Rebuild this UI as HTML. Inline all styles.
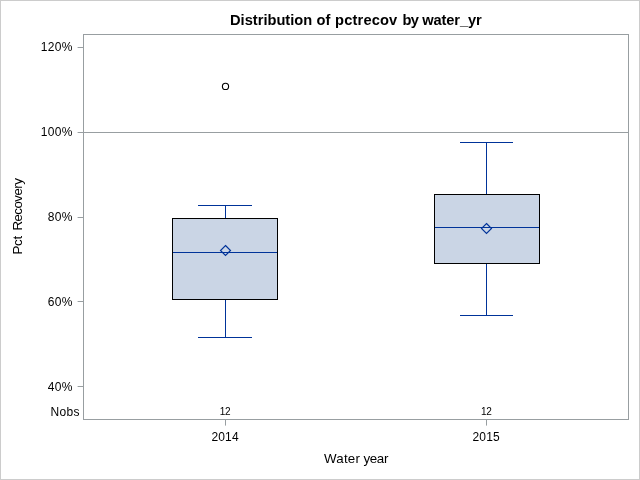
<!DOCTYPE html>
<html>
<head>
<meta charset="utf-8">
<title>Distribution of pctrecov by water_yr</title>
<style>
html,body{margin:0;padding:0;background:#fff;}
body{width:640px;height:480px;overflow:hidden;}
svg{display:block;}
text{font-family:"Liberation Sans",Arial,sans-serif;fill:#000;}
.ax{stroke:#989EA1;stroke-width:1;fill:none;}
.bl{stroke:#003399;stroke-width:1;fill:none;}
</style>
</head>
<body>
<svg width="640" height="480" viewBox="0 0 640 480">
<rect x="0" y="0" width="640" height="480" fill="#fff"/>
<rect x="0.5" y="0.5" width="639" height="479" fill="none" stroke="#cccccc" stroke-width="1" shape-rendering="crispEdges"/>
<g shape-rendering="crispEdges">
<!-- plot frame -->
<rect class="ax" x="83.5" y="34.5" width="545" height="385"/>
<!-- reference line -->
<line class="ax" x1="84" y1="132.5" x2="628" y2="132.5"/>
<!-- y ticks -->
<line class="ax" x1="77.6" y1="47.5" x2="83" y2="47.5" shape-rendering="auto"/>
<line class="ax" x1="77.6" y1="132.5" x2="83" y2="132.5" shape-rendering="auto"/>
<line class="ax" x1="77.6" y1="217.5" x2="83" y2="217.5" shape-rendering="auto"/>
<line class="ax" x1="77.6" y1="301.5" x2="83" y2="301.5" shape-rendering="auto"/>
<line class="ax" x1="77.6" y1="386.5" x2="83" y2="386.5" shape-rendering="auto"/>
<!-- x ticks -->
<line class="ax" x1="225.5" y1="420" x2="225.5" y2="425.6" shape-rendering="auto"/>
<line class="ax" x1="486.5" y1="420" x2="486.5" y2="425.6" shape-rendering="auto"/>
<!-- box 1 -->
<line class="bl" x1="225.5" y1="205" x2="225.5" y2="218"/>
<line class="bl" x1="225.5" y1="300" x2="225.5" y2="338"/>
<line class="bl" x1="198" y1="205.5" x2="252" y2="205.5"/>
<line class="bl" x1="198" y1="337.5" x2="252" y2="337.5"/>
<rect x="172.5" y="218.5" width="105" height="81" fill="#CAD5E5" stroke="#000" stroke-width="1"/>
<line class="bl" x1="173" y1="252.5" x2="277" y2="252.5"/>
<!-- box 2 -->
<line class="bl" x1="486.5" y1="142" x2="486.5" y2="194"/>
<line class="bl" x1="486.5" y1="264" x2="486.5" y2="316"/>
<line class="bl" x1="460" y1="142.5" x2="513" y2="142.5"/>
<line class="bl" x1="460" y1="315.5" x2="513" y2="315.5"/>
<rect x="434.5" y="194.5" width="105" height="69" fill="#CAD5E5" stroke="#000" stroke-width="1"/>
<line class="bl" x1="435" y1="227.5" x2="539" y2="227.5"/>
</g>
<!-- mean markers -->
<polygon class="bl" style="stroke-width:1.15" points="225.5,245.5 230.5,250.5 225.5,255.5 220.5,250.5"/>
<polygon class="bl" style="stroke-width:1.15" points="486.5,223.5 491.5,228.5 486.5,233.5 481.5,228.5"/>
<!-- outlier -->
<circle cx="225.5" cy="86.4" r="3.1" fill="none" stroke="#000" stroke-width="1.12"/>
<!-- title -->
<text x="230" y="24.7" font-size="14.67" font-weight="bold"><tspan x="230">Distribution </tspan><tspan x="316.6">of </tspan><tspan x="335.1" style="letter-spacing:0.15px">pctrecov </tspan><tspan x="402.4" style="letter-spacing:-0.6px">by </tspan><tspan x="422.2" style="letter-spacing:-0.1px">water_yr</tspan></text>
<!-- y tick labels -->
<g font-size="12" text-anchor="end" style="letter-spacing:0.33px">
<text x="72.8" y="51">120%</text>
<text x="72.8" y="135.5">100%</text>
<text x="72.8" y="220.5">80%</text>
<text x="72.8" y="306">60%</text>
<text x="72.8" y="391">40%</text>
<text x="79.9" y="416">Nobs</text>
</g>
<!-- x tick labels -->
<g font-size="12" text-anchor="middle" style="letter-spacing:0.15px">
<text x="225.1" y="440.6">2014</text>
<text x="486.2" y="440.6">2015</text>
</g>
<g font-size="10" text-anchor="middle" style="letter-spacing:-0.2px">
<text x="225.1" y="415.4">12</text>
<text x="486.3" y="415.4">12</text>
</g>
<!-- axis labels -->
<text x="324" y="462.8" font-size="13.33"><tspan x="324" style="letter-spacing:0.2px">Water </tspan><tspan x="363.6" style="letter-spacing:-0.4px">year</tspan></text>
<text transform="translate(22.2,254.5) rotate(-90)" font-size="13.33"><tspan x="0" style="letter-spacing:-0.3px">Pct </tspan><tspan x="23.9" style="letter-spacing:-0.55px">Recovery</tspan></text>
</svg>
</body>
</html>
